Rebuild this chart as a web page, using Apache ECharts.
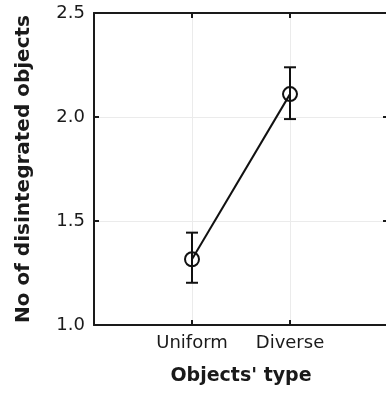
<!DOCTYPE html>
<html>
<head>
<meta charset="utf-8">
<script src="https://cdn.jsdelivr.net/npm/echarts@6/dist/echarts.min.js"></script>
<style>
  html, body { margin: 0; padding: 0; background: #fff; }
  #chart { width: 386px; height: 396px; }
</style>
</head>
<body>
<div id="chart"></div>
<script>
// 数据
var categories = ['Uniform', 'Diverse'];
var catPos = [1, 2];
var means = [1.316, 2.11];
var lower = [1.203, 1.99];
var upper = [1.444, 2.239];

var myChart = echarts.init(document.getElementById('chart'), null, {renderer: 'canvas'});

var font = 'DejaVu Sans';
var axisColor = '#1a1a1a';
var gridColor = '#ebebeb';

var lineData = catPos.map(function (x, i) { return [x, means[i]]; });
var errData = catPos.map(function (x, i) { return [x, lower[i], upper[i]]; });

var option = {
    animation: false,
    grid: {left: 94, top: 13, width: 294, height: 312, containLabel: false, outerBoundsMode: 'none'},
    xAxis: [{
        type: 'value', min: 0, max: 3, interval: 1,
        name: "Objects' type", nameLocation: 'middle', nameGap: 42,
        nameTextStyle: {fontFamily: font, fontSize: 19, fontWeight: 'bold', color: '#1a1a1a'},
        axisLine: {show: true, lineStyle: {color: axisColor, width: 2}},
        axisTick: {show: true, inside: true, length: 5, lineStyle: {color: axisColor, width: 2}},
        axisLabel: {
            margin: 9, fontFamily: font, fontSize: 18, color: '#1a1a1a',
            formatter: function (v) { var i = catPos.indexOf(v); return i >= 0 ? categories[i] : ''; }
        },
        splitLine: {show: true, lineStyle: {color: gridColor, width: 1}}
    }, {
        type: 'value', position: 'top', min: 0, max: 3, interval: 1,
        axisLine: {show: true, onZero: false, lineStyle: {color: axisColor, width: 2}},
        axisTick: {show: true, inside: true, length: 5, lineStyle: {color: axisColor, width: 2}},
        axisLabel: {show: false},
        splitLine: {show: false}
    }],
    yAxis: [{
        type: 'value', min: 1, max: 2.5, interval: 0.5,
        name: 'No of disintegrated objects', nameLocation: 'middle', nameGap: 60,
        nameTextStyle: {fontFamily: font, fontSize: 20, fontWeight: 'bold', color: '#1a1a1a'},
        axisLine: {show: true, lineStyle: {color: axisColor, width: 2}},
        axisTick: {show: true, inside: true, length: 5, lineStyle: {color: axisColor, width: 2}},
        axisLabel: {
            margin: 9, fontFamily: font, fontSize: 18, color: '#1a1a1a',
            formatter: function (v) { return v.toFixed(1); }
        },
        splitLine: {show: true, lineStyle: {color: gridColor, width: 1}}
    }, {
        type: 'value', position: 'right', min: 1, max: 2.5, interval: 0.5,
        axisLine: {show: true, onZero: false, lineStyle: {color: axisColor, width: 2}},
        axisTick: {show: true, inside: true, length: 5, lineStyle: {color: axisColor, width: 2}},
        axisLabel: {show: false},
        splitLine: {show: false}
    }],
    series: [{
        type: 'custom',
        name: 'error',
        xAxisIndex: 0, yAxisIndex: 0,
        data: errData,
        renderItem: function (params, api) {
            var lo = api.coord([api.value(0), api.value(1)]);
            var hi = api.coord([api.value(0), api.value(2)]);
            var half = 6;
            var style = {stroke: '#111', lineWidth: 2};
            return {
                type: 'group',
                children: [
                    {type: 'line', shape: {x1: lo[0], y1: lo[1], x2: hi[0], y2: hi[1]}, style: style},
                    {type: 'line', shape: {x1: lo[0] - half, y1: lo[1], x2: lo[0] + half, y2: lo[1]}, style: style},
                    {type: 'line', shape: {x1: hi[0] - half, y1: hi[1], x2: hi[0] + half, y2: hi[1]}, style: style}
                ]
            };
        },
        z: 3
    }, {
        type: 'line',
        name: 'mean',
        data: lineData,
        symbol: 'circle',
        symbolSize: 14,
        lineStyle: {color: '#111', width: 2},
        itemStyle: {color: 'rgba(0,0,0,0)', borderColor: '#111', borderWidth: 2},
        z: 4
    }]
};

myChart.setOption(option);
</script>
</body>
</html>
